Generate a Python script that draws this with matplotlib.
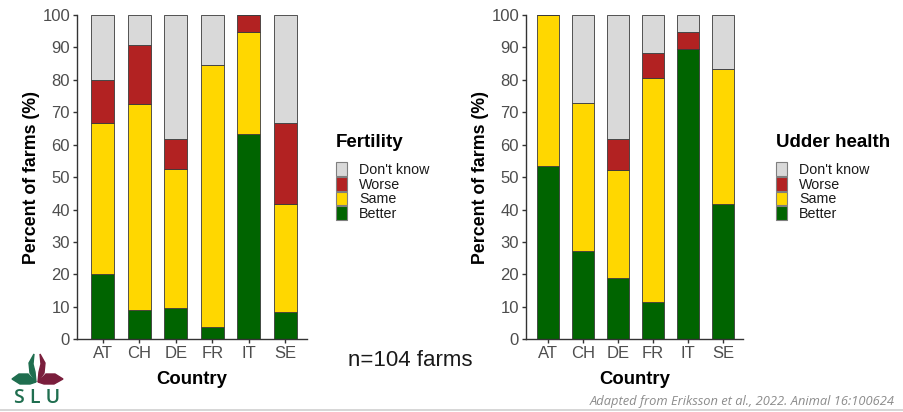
import matplotlib
matplotlib.use("Agg")
import matplotlib.pyplot as plt
from matplotlib.patches import Patch, Polygon
import numpy as np

plt.rcParams['font.family'] = ['Liberation Sans', 'DejaVu Sans']

countries = ["AT", "CH", "DE", "FR", "IT", "SE"]
categories = ["Better", "Same", "Worse", "Don't know"]
colors = {"Better": "#006400", "Same": "#FFD700", "Worse": "#B22222", "Don't know": "#D9D9D9"}

# Fertility (percent of farms)
fert_better = [20.0, 9.1, 9.5, 3.8, 63.2, 8.3]
fert_same = [46.7, 63.6, 42.9, 80.8, 31.6, 33.3]
fert_worse = [13.3, 18.2, 9.5, 0.0, 5.3, 25.0]
fert_dk = [20.0, 9.1, 38.1, 15.4, 0.0, 33.3]

# Udder health (percent of farms)
udder_better = [53.3, 27.3, 19.0, 11.5, 89.5, 41.7]
udder_same = [46.7, 45.5, 33.3, 69.2, 0.0, 41.7]
udder_worse = [0.0, 0.0, 9.5, 7.7, 5.3, 0.0]
udder_dk = [0.0, 27.3, 38.1, 11.5, 5.3, 16.7]

yticks = [0, 10, 20, 30, 40, 50, 60, 70, 80, 90, 100]

W, H = 904, 412
fig = plt.figure(figsize=(W / 100, H / 100), dpi=100)

tick_col = "#4D4D4D"

def make_panel(rect, series, xlim):
    ax = fig.add_axes(rect)
    x = np.arange(len(countries))
    bottom = np.zeros(len(countries))
    for cat, vals in zip(categories, series):
        vals = np.array(vals)
        ax.bar(x, vals, width=0.63, bottom=bottom, color=colors[cat],
               edgecolor="#3A3A3A", linewidth=0.6, zorder=2)
        bottom += vals
    ax.set_xlim(*xlim)
    ax.set_ylim(0, 100)
    ax.set_xticks(x)
    ax.set_xticklabels(countries)
    ax.set_yticks(yticks)
    ax.tick_params(axis='both', colors="#333333", labelcolor=tick_col,
                   labelsize=12, length=3, width=1.0, pad=2)
    for s in ["top", "right"]:
        ax.spines[s].set_visible(False)
    for s in ["left", "bottom"]:
        ax.spines[s].set_color("#333333")
        ax.spines[s].set_linewidth(1.0)
    ax.set_xlabel("Country", fontsize=13.3, fontweight="bold", color="black", labelpad=7)
    ax.set_ylabel("Percent of farms (%)", fontsize=12.8, fontweight="bold", color="black", labelpad=2)
    return ax

ax1 = make_panel([77 / W, (H - 339.3) / H, 230 / W, 324.3 / H],
                 [fert_better, fert_same, fert_worse, fert_dk], (-0.71, 5.6))
ax2 = make_panel([526 / W, (H - 339.3) / H, 217 / W, 324.3 / H],
                 [udder_better, udder_same, udder_worse, udder_dk], (-0.63, 5.57))

def add_legend(xpix, title):
    handles = [Patch(facecolor=colors[c], edgecolor="#7F7F7F", linewidth=0.8)
               for c in ["Don't know", "Worse", "Same", "Better"]]
    leg = fig.legend(handles, ["Don't know", "Worse", "Same", "Better"], title=title,
                     loc="upper left", bbox_to_anchor=(xpix / W, (H - 134) / H),
                     frameon=False, fontsize=10.3,
                     title_fontproperties={"weight": "bold", "size": 13.5},
                     handlelength=0.8, handleheight=1.1, labelspacing=0.0,
                     handletextpad=0.8, borderpad=0.0, borderaxespad=0.0)
    leg._legend_box.align = "left"
    leg._legend_box.sep = 8
    for t in leg.get_texts():
        t.set_color("#1A1A1A")
    return leg

add_legend(336, "Fertility")
add_legend(776, "Udder health")

fig.text(348 / W, (H - 361) / H, "n=104 farms", fontsize=16, color="#1A1A1A",
         ha="left", va="center")

fig.text(895 / W, (H - 401) / H, "Adapted from Eriksson et al., 2022. Animal 16:100624",
         fontsize=9.3, color="#8C8C8C", style="italic", ha="right", va="center",
         family=["Open Sans", "DejaVu Sans"])

# bottom separator line
fig.add_artist(plt.Line2D([0, 1], [(H - 409.5) / H, (H - 409.5) / H], color="#D0D0D0", linewidth=1.2))

# SLU logo (pixel coords, origin at figure pixel (8, 350))
lax = fig.add_axes([8 / W, (H - 408) / H, 60 / W, 58 / H])
lax.set_xlim(0, 60)
lax.set_ylim(58, 0)
lax.axis("off")
green = "#1F6E4F"
maroon = "#7A1E3C"
lax.add_patch(Polygon([[26, 4], [21, 13], [22, 23], [28, 32], [27, 22], [25, 14]], closed=True, color=green))
lax.add_patch(Polygon([[32, 4], [37, 13], [36, 23], [30, 32], [31, 22], [33, 14]], closed=True, color=maroon))
lax.add_patch(Polygon([[28, 32], [20, 24], [11, 24], [4, 29], [12, 34], [22, 34]], closed=True, color=green))
lax.add_patch(Polygon([[30, 32], [38, 24], [47, 24], [55, 29], [46, 34], [36, 34]], closed=True, color=maroon))
lax.text(29, 48, "S L U", fontsize=14, color=green, ha="center", va="center",
         family=["Open Sans", "DejaVu Sans"], fontweight="semibold")

fig.savefig("out.png", dpi=100, facecolor="white")
